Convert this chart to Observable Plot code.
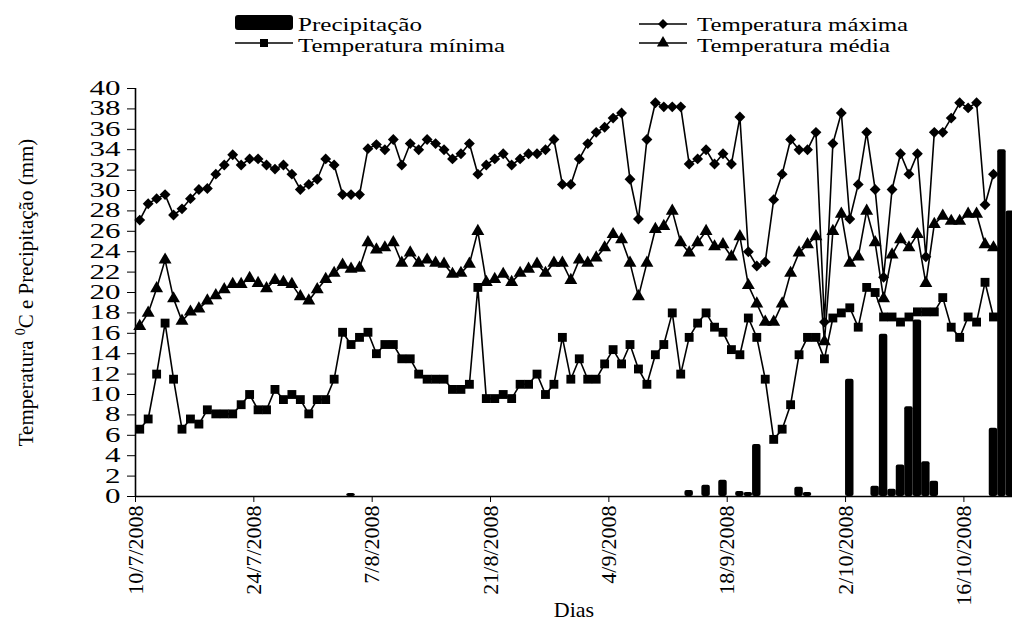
<!DOCTYPE html>
<html><head><meta charset="utf-8">
<script src="https://cdn.jsdelivr.net/npm/d3@7"></script>
<script src="https://cdn.jsdelivr.net/npm/@observablehq/plot@0.6"></script>
<style>
body{margin:0;background:#fff;}
#wrap{width:1012px;height:622px;overflow:hidden;}
#wrap svg{display:block;}
#wrap svg, #wrap svg text, #wrap svg tspan{font-family:"Liberation Serif","Times New Roman",Tinos,Times,serif !important;}
</style></head><body><div id="wrap"></div>
<script>
// x tick positions (day index from 10/7/2008) and their labels
const tickDays = [0, 14, 28, 42, 56, 70, 84, 98];
const tickLabels = ["10/7/2008","24/7/2008","7/8/2008","21/8/2008","4/9/2008","18/9/2008","2/10/2008","16/10/2008"];
const yTicks = [0,2,4,6,8,10,12,14,16,18,20,22,24,26,28,30,32,34,36,38,40];

// daily temperatures (°C), day 0 = 10/7/2008
const tMax = [27.1,28.7,29.2,29.6,27.6,28.2,29.2,30.1,30.2,31.6,
  32.5,33.5,32.5,33.1,33.1,32.5,32.1,32.5,31.6,30.1,
  30.6,31.1,33.1,32.5,29.6,29.6,29.6,34.1,34.5,34.0,
  35.0,32.5,34.6,34.0,35.0,34.6,34.0,33.1,33.6,34.6,
  31.6,32.5,33.1,33.6,32.5,33.1,33.6,33.6,34.0,35.0,
  30.6,30.6,33.1,34.6,35.7,36.2,37.1,37.6,31.1,27.2,
  35.0,38.6,38.2,38.2,38.2,32.6,33.1,34.0,32.6,33.6,
  32.6,37.2,24.0,22.6,23.0,29.1,31.6,35.0,34.0,34.0,
  35.7,17.1,34.6,37.6,27.2,30.6,35.7,30.1,21.5,30.1,
  33.6,31.6,33.6,23.5,35.7,35.7,37.1,38.6,38.1,38.6,
  28.6,31.6];
const tMed = [16.7,18.0,20.4,23.2,19.4,17.2,18.1,18.4,19.2,19.7,
  20.3,20.8,20.8,21.4,20.9,20.4,21.2,21.0,20.8,19.6,
  19.2,20.3,21.3,21.9,22.7,22.3,22.4,24.9,24.2,24.4,
  24.9,22.9,23.9,22.9,23.2,22.9,22.8,21.8,21.9,22.8,
  26.0,21.0,21.3,21.8,21.0,21.9,22.3,22.8,21.9,22.9,
  22.9,21.2,23.2,22.9,23.4,24.4,25.7,25.2,22.9,19.6,
  22.9,26.2,26.5,28.0,24.9,23.9,24.9,26.0,24.5,24.7,
  23.5,25.5,20.7,18.9,17.1,17.1,18.9,21.9,23.9,24.7,
  25.5,15.2,26.0,27.7,22.9,23.5,28.0,24.9,19.4,23.7,
  25.2,24.4,25.7,20.9,26.7,27.5,27.0,27.0,27.7,27.7,
  24.7,24.4];
const tMin = [6.6,7.6,12.0,17.0,11.5,6.6,7.6,7.1,8.5,8.1,
  8.1,8.1,9.0,10.0,8.5,8.5,10.5,9.5,10.0,9.5,
  8.1,9.5,9.5,11.5,16.1,14.9,15.6,16.1,14.0,14.9,
  14.9,13.5,13.5,12.0,11.5,11.5,11.5,10.5,10.5,11.0,
  20.5,9.6,9.6,10.0,9.6,11.0,11.0,12.0,10.0,11.0,
  15.6,11.5,13.5,11.5,11.5,13.0,14.4,13.0,14.9,12.5,
  11.0,13.9,14.9,18.0,12.0,15.6,17.0,18.0,16.6,16.1,
  14.4,13.9,17.5,15.6,11.5,5.6,6.6,9.0,13.9,15.6,
  15.6,13.5,17.5,18.0,18.5,16.6,20.5,20.0,17.6,17.6,
  17.1,17.6,18.1,18.1,18.1,19.5,16.6,15.6,17.6,17.1,
  21.0,17.6];

// precipitation (mm): days with rain and amounts
const rainDays = [25,65,67,69,71,72,73,78,79,84,87,88,89,90,91,92,93,94,101,102,103];
const rainMm   = [0.3,0.6,1.1,1.6,0.5,0.4,5.1,0.9,0.4,11.5,1.0,15.9,0.7,3.1,8.8,17.3,3.4,1.5,6.7,34.0,28.0];

const seriesNames = ["Precipitação","Temperatura máxima","Temperatura mínima","Temperatura média"];

const tempRows = tMax.map((v, i) => ({day: i, max: v, med: tMed[i], min: tMin[i]}));
const rainRows = rainDays.map((d, i) => ({day: d, mm: rainMm[i]}));
const cx = d => d.day + 0.5;

// ---- legend (above the chart)
const leg = d3.create("svg").attr("width", 1012).attr("height", 56)
  .style("font-size", "19px");
leg.append("rect").attr("x", 235).attr("y", 15).attr("width", 58).attr("height", 15).attr("rx", 3).attr("fill", "black");
leg.append("text").attr("x", 298).attr("y", 31).attr("textLength", 124).attr("lengthAdjust", "spacingAndGlyphs").text(seriesNames[0]);
leg.append("line").attr("x1", 235).attr("x2", 293).attr("y1", 43).attr("y2", 43).attr("stroke", "black").attr("stroke-width", 1.6);
leg.append("path").attr("transform", "translate(264,43)").attr("d", d3.symbol(d3.symbolSquare, 64)()).attr("fill", "black");
leg.append("text").attr("x", 298).attr("y", 52).attr("textLength", 207).attr("lengthAdjust", "spacingAndGlyphs").text(seriesNames[2]);
leg.append("line").attr("x1", 639).attr("x2", 687).attr("y1", 24).attr("y2", 24).attr("stroke", "black").attr("stroke-width", 1.6);
leg.append("path").attr("transform", "translate(663,24)").attr("d", d3.symbol(d3.symbolDiamond2, 64)()).attr("fill", "black");
leg.append("text").attr("x", 697).attr("y", 31).attr("textLength", 211).attr("lengthAdjust", "spacingAndGlyphs").text(seriesNames[1]);
leg.append("line").attr("x1", 639).attr("x2", 687).attr("y1", 43).attr("y2", 43).attr("stroke", "black").attr("stroke-width", 1.6);
leg.append("path").attr("transform", "translate(663,43)").attr("d", d3.symbol(d3.symbolTriangle, 64)()).attr("fill", "black");
leg.append("text").attr("x", 697).attr("y", 52).attr("textLength", 193).attr("lengthAdjust", "spacingAndGlyphs").text(seriesNames[3]);

// ---- chart
const plot = Plot.plot({
  width: 1012, height: 566,
  marginTop: 32, marginBottom: 126, marginLeft: 135, marginRight: 0,
  style: {fontFamily: "Liberation Serif", fontSize: "20px", color: "black", background: "white"},
  x: {domain: [0, 103.75]},
  y: {domain: [0, 40]},
  marks: [
    Plot.axisY({ticks: yTicks, tickSize: 8, tickPadding: 7, fontSize: 20,
      label: "Temperatura 0C e Precipitação (mm)", labelAnchor: "center", labelOffset: 117, labelArrow: "none"}),
    Plot.axisX({ticks: tickDays, tickFormat: d => tickLabels[tickDays.indexOf(d)], tickRotate: -90,
      tickSize: 6, tickPadding: 3, fontSize: 22,
      label: "Dias", labelAnchor: "center", labelOffset: 120, labelArrow: "none"}),
    Plot.ruleX([0], {y1: 0, y2: 40, stroke: "black", strokeWidth: 1.6}),
    Plot.ruleY([0], {stroke: "black", strokeWidth: 1.6}),
    Plot.line(tempRows, {x: cx, y: "max", stroke: "black", strokeWidth: 1.6}),
    Plot.line(tempRows, {x: cx, y: "med", stroke: "black", strokeWidth: 1.6}),
    Plot.line(tempRows, {x: cx, y: "min", stroke: "black", strokeWidth: 1.6}),
    Plot.dot(tempRows, {x: cx, y: "max", symbol: "diamond2", r: 4.9, fill: "black", stroke: "none"}),
    Plot.dot(tempRows, {x: cx, y: "med", symbol: "triangle", r: 4.8, fill: "black", stroke: "none"}),
    Plot.dot(tempRows, {x: cx, y: "min", symbol: "square", r: 5, fill: "black", stroke: "none"}),
    Plot.rectY(rainRows, {x1: "day", x2: d => d.day + 1, y: "mm", fill: "black", rx: 2})
  ]
});

// superscript 0 in the y-axis title
const yl = plot.querySelector('g[aria-label="y-axis label"] text');
if (yl) {
  yl.textContent = "";
  yl.setAttribute("font-size", "21");
  const NS = "http://www.w3.org/2000/svg";
  const a = document.createElementNS(NS, "tspan"); a.textContent = "Temperatura ";
  const b = document.createElementNS(NS, "tspan"); b.textContent = "0"; b.setAttribute("dy", "-8"); b.setAttribute("font-size", "14");
  const c = document.createElementNS(NS, "tspan"); c.textContent = "C e Precipitação (mm)"; c.setAttribute("dy", "8");
  yl.append(a, b, c);
}
// widen the y tick labels like the original
plot.querySelectorAll('g[aria-label="y-axis tick label"] text').forEach(t => {
  const tr = t.getAttribute("transform");
  if (tr) t.setAttribute("transform", tr + " scale(1.55,1)");
});

const wrap = document.getElementById("wrap");
wrap.append(leg.node(), plot);
</script></body></html>
